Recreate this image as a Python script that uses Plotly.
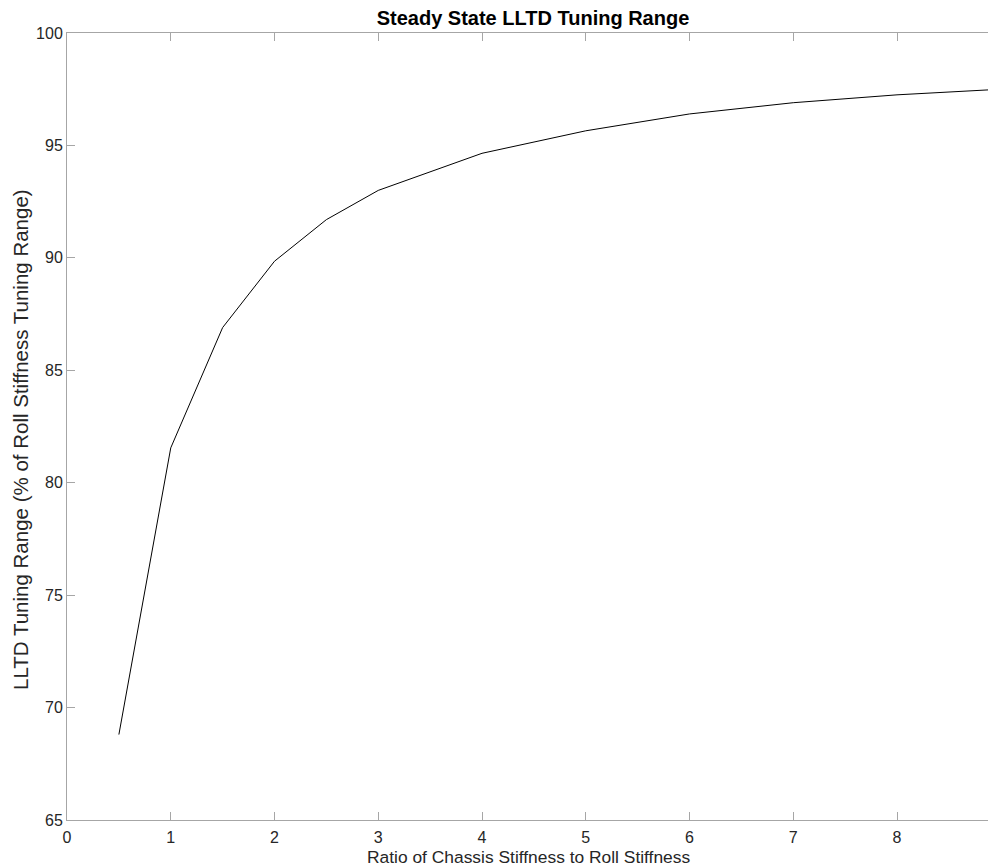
import plotly.graph_objects as go

ratio = [0.5, 1, 1.5, 2, 2.5, 3, 4, 5, 6, 7, 8, 9]
lltd_range = [68.8, 81.55, 86.9, 89.85, 91.7, 93.0, 94.65, 95.65, 96.4, 96.9, 97.25, 97.5]

x_ticks = [0, 1, 2, 3, 4, 5, 6, 7, 8, 9]
y_ticks = [65, 70, 75, 80, 85, 90, 95, 100]

title_text = "Steady State LLTD Tuning Range"
x_label = "Ratio of Chassis Stiffness to Roll Stiffness"
y_label = "LLTD Tuning Range (% of Roll Stiffness Tuning Range)"

font_family = "Liberation Sans, Arial, sans-serif"
axis_gray = "#a6a6a6"
text_col = "#262626"

# page has an 8px body margin; figure sized to fit the window
W, H = 988, 860

fig = go.Figure()
fig.add_trace(go.Scatter(
    x=ratio, y=lltd_range, mode="lines",
    line=dict(color="black", width=1),
    showlegend=False, hoverinfo="x+y",
))

fig.update_layout(
    width=W, height=H,
    margin=dict(l=59, r=0, t=25, b=48),
    paper_bgcolor="white", plot_bgcolor="white",
    font=dict(family=font_family, size=16, color=text_col),
    title=dict(
        text="<b>" + title_text + "</b>",
        x=525 / W, xref="container", xanchor="center",
        y=1 - 10 / H, yref="container", yanchor="middle",
        font=dict(family=font_family, size=20, color="black"),
    ),
    annotations=[
        dict(text=x_label, xref="paper", yref="paper",
             x=(520 - 59) / (W - 59), y=-(848.7 - 812) / (812 - 25),
             xanchor="center", yanchor="middle", showarrow=False,
             font=dict(size=17.4, color=text_col)),
        dict(text=y_label, xref="paper", yref="paper",
             x=-(59 - 12) / (W - 59), y=(812 - 432) / (812 - 25),
             xanchor="center", yanchor="middle", showarrow=False,
             textangle=-90, font=dict(size=20.5, color=text_col)),
    ],
)

fig.update_xaxes(
    range=[0, (W - 59) / 103.75], tickvals=x_ticks, ticktext=[str(v) for v in x_ticks],
    showgrid=False, zeroline=False,
    showline=True, linecolor=axis_gray, linewidth=1, mirror="ticks",
    ticks="inside", ticklen=8, tickcolor=axis_gray, tickwidth=1,
    tickfont=dict(size=16, color=text_col), ticklabelstandoff=3,
)
fig.update_yaxes(
    range=[65, 100], tickvals=y_ticks, ticktext=[str(v) for v in y_ticks],
    showgrid=False, zeroline=False,
    showline=True, linecolor=axis_gray, linewidth=1, mirror=False,
    ticks="inside", ticklen=8, tickcolor=axis_gray, tickwidth=1,
    tickfont=dict(size=16, color=text_col),
)

fig.write_html("out.html")
